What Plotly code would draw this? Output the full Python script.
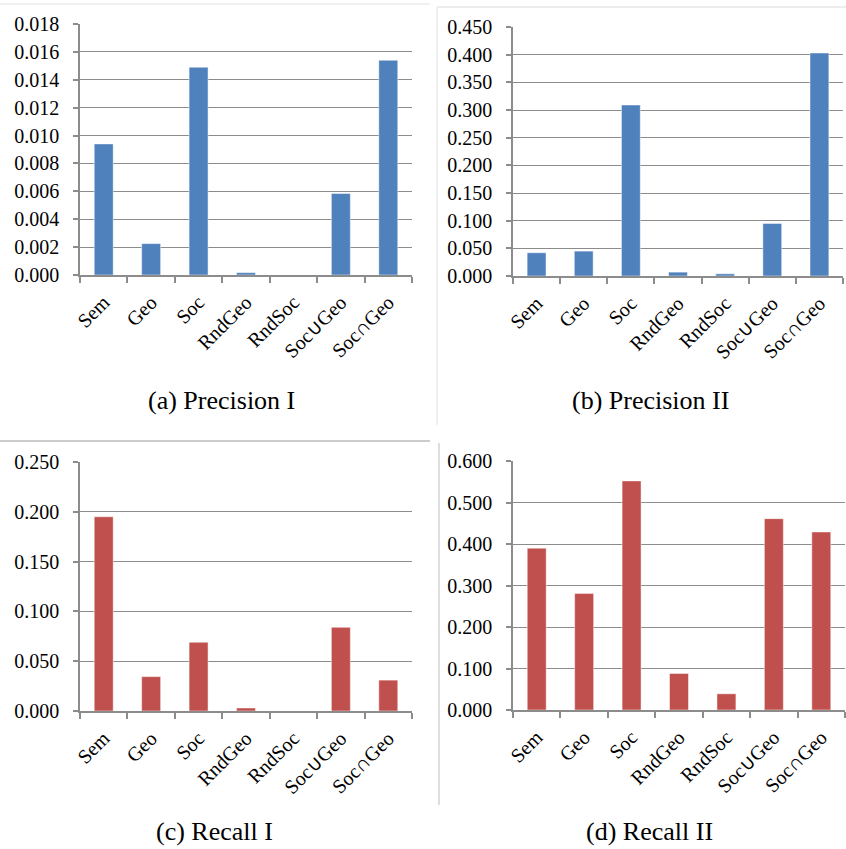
import plotly.graph_objects as go

# Methods compared on every panel
methods = ["Sem", "Geo", "Soc", "RndGeo", "RndSoc", "Soc∪Geo", "Soc∩Geo"]

precision_1 = [0.0094, 0.00225, 0.0149, 0.00017, 0.0, 0.00584, 0.0154]
precision_2 = [0.042, 0.045, 0.309, 0.007, 0.004, 0.095, 0.403]
recall_1 = [0.195, 0.0345, 0.069, 0.003, 0.0, 0.084, 0.031]
recall_2 = [0.390, 0.281, 0.552, 0.088, 0.039, 0.461, 0.429]

captions = ["(a) Precision I", "(b) Precision II", "(c) Recall I", "(d) Recall II"]

BLUE = "#4F81BD"
RED = "#C0504D"
W, H = 846, 849
SERIF = "Liberation Serif"


def px_x(x):
    return x / W


def px_y(y):
    return 1 - y / H


# panel geometry (pixels): left, right, top, bottom of plot area
panels = [
    dict(vals=precision_1, color=BLUE, rng=[0, 0.018], dtick=0.002, box=(80, 412, 24, 275), cap=(221, 400)),
    dict(vals=precision_2, color=BLUE, rng=[0, 0.45], dtick=0.05, box=(513, 843, 27, 276), cap=(650, 400)),
    dict(vals=recall_1, color=RED, rng=[0, 0.25], dtick=0.05, box=(80, 412, 462, 711), cap=(215, 831)),
    dict(vals=recall_2, color=RED, rng=[0, 0.6], dtick=0.1, box=(513, 845, 461, 710), cap=(649, 831)),
]

fig = go.Figure()
tick_font = dict(family=SERIF, size=20, color="#000000")
axis_col = "#8c8c8c"

for i, p in enumerate(panels):
    n = "" if i == 0 else str(i + 1)
    fig.add_trace(go.Bar(
        x=methods, y=p["vals"], xaxis="x" + n, yaxis="y" + n,
        marker=dict(color=p["color"], line=dict(color="rgba(255,255,255,0.6)", width=0.8)),
        showlegend=False,
    ))
    l, r, t, b = p["box"]
    fig.layout["xaxis" + n] = dict(
        domain=[px_x(l), px_x(r)], anchor="y" + n, automargin=False,
        type="category", tickson="boundaries", ticks="outside", ticklen=6,
        tickcolor=axis_col, tickwidth=1.5,
        showline=True, linecolor=axis_col, linewidth=1.5,
        showgrid=False, tickangle=-45, tickfont=tick_font,
        ticklabelstandoff=6,
    )
    fig.layout["yaxis" + n] = dict(
        domain=[px_y(b), px_y(t)], anchor="x" + n, automargin=False,
        range=p["rng"], dtick=p["dtick"], tickformat=".3f",
        ticks="outside", ticklen=5, tickcolor=axis_col, tickwidth=1.5,
        showline=True, linecolor=axis_col, linewidth=1.5,
        showgrid=True, gridcolor=axis_col, gridwidth=1.2,
        zeroline=False, tickfont=tick_font, ticklabelstandoff=10,
    )
    fig.add_annotation(
        x=px_x(p["cap"][0]), y=px_y(p["cap"][1]), xref="paper", yref="paper",
        text=captions[i], showarrow=False, xanchor="center", yanchor="middle",
        font=dict(family=SERIF, size=26, color="#000000"),
    )

# thin frame lines separating the chart boxes
frame = [
    (0, 4, 430, 4, "#e3e3e3"),
    (437, 7, 846, 7, "#dcdcdc"),
    (437, 7, 437, 425, "#e6e6e6"),
    (0, 441, 430, 441, "#9a9a9a"),
    (439, 443, 439, 805, "#c8c8c8"),
]
for x0, y0, x1, y1, c in frame:
    fig.add_shape(type="line", xref="paper", yref="paper",
                  x0=px_x(x0), y0=px_y(y0), x1=px_x(x1), y1=px_y(y1),
                  line=dict(color=c, width=1.2))

fig.update_layout(
    width=W, height=H, margin=dict(l=0, r=0, t=0, b=0),
    paper_bgcolor="white", plot_bgcolor="white",
    bargap=0.6,
)

fig.write_html("out.html")
